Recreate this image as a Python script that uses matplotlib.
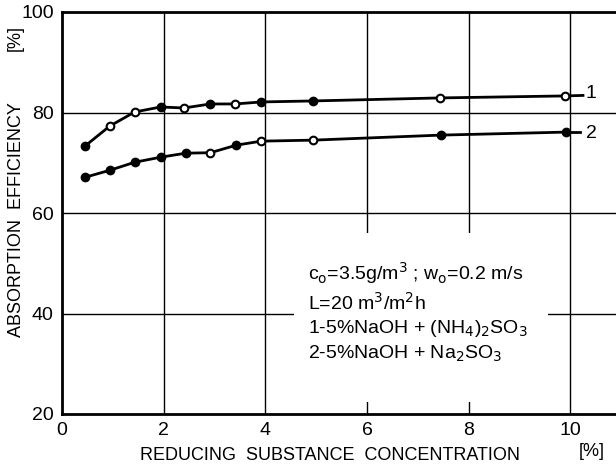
import matplotlib
matplotlib.use("Agg")
import matplotlib.pyplot as plt
from matplotlib.patches import Rectangle

# Data
x1 = [0.45, 0.94, 1.43, 1.94, 2.40, 2.92, 3.41, 3.92, 4.94, 7.43, 9.90]
y1 = [73.3, 77.3, 80.1, 81.1, 80.9, 81.7, 81.7, 82.1, 82.3, 82.9, 83.3]
open1 = [False, True, True, False, True, False, True, False, False, True, True]

x2 = [0.45, 0.94, 1.43, 1.94, 2.43, 2.92, 3.43, 3.92, 4.94, 7.45, 9.92]
y2 = [67.1, 68.5, 70.1, 71.1, 71.9, 72.0, 73.5, 74.3, 74.5, 75.5, 76.1]
open2 = [False, False, False, False, False, True, False, True, True, False, False]

xticks = [0, 2, 4, 6, 8, 10]
yticks = [20, 40, 60, 80, 100]

FONT = ['Liberation Sans Narrow', 'Liberation Sans', 'DejaVu Sans']
plt.rcParams['font.family'] = FONT

fig = plt.figure(figsize=(6.16, 4.71), dpi=100)
ax = fig.add_axes([62/616, 57/471, (616-62)/616, (414-12)/471])
ax.set_xlim(0.04, 10.9)
ax.set_ylim(20, 100)

for xv in [2, 4, 6, 8, 10]:
    ax.axvline(xv, color='black', lw=1.0, zorder=1)
for yv in [40, 60, 80]:
    ax.axhline(yv, color='black', lw=1.0, zorder=1)

# white panel behind the legend text (covers grid lines)
ax.add_patch(Rectangle((4.57, 22.4), 5.0, 33.6, facecolor='white',
                       edgecolor='none', zorder=2))

for xs, ys, opens in [(x1, y1, open1), (x2, y2, open2)]:
    ax.plot(xs, ys, color='black', lw=2.0, zorder=3)
    for xv, yv, o in zip(xs, ys, opens):
        ax.plot([xv], [yv], marker='o', ms=5.5, mec='black', mew=1.5,
                mfc='white' if o else 'black', zorder=4)

# end extensions and labels
ax.plot([x1[-1], 10.25], [y1[-1], y1[-1] + 0.1], color='black', lw=2.0, zorder=3)
ax.plot([x2[-1], 10.2], [y2[-1], y2[-1]], color='black', lw=2.0, zorder=3)
ax.text(10.3, y1[-1] + 0.4, '1', fontsize=14, va='center', ha='left')
ax.text(10.3, y2[-1] - 0.2, '2', fontsize=14, va='center', ha='left')

ax.set_xticks(xticks)
ax.set_yticks(yticks)
ax.tick_params(length=0, labelsize=14, pad=6)
for s in ['left', 'bottom', 'top']:
    ax.spines[s].set_linewidth(2.0)
ax.spines['right'].set_visible(False)

ax.text(0.444, 0.254,
        'c$_\\mathrm{o}$=3.5g/m$^3$ ; w$_\\mathrm{o}$=0.2 m/s\n'
        'L=20 m$^3$/m$^2$h\n'
        '1-5%NaOH + (NH$_4$)$_2$SO$_3$\n'
        '2-5%NaOH + Na$_2$SO$_3$',
        transform=ax.transAxes, fontsize=14, va='center', ha='left',
        linespacing=1.3, zorder=5)

fig.text(17/616, 1 - 220/471, 'ABSORPTION  EFFICIENCY', rotation=90,
         fontsize=13, ha='center', va='center')
fig.text(15/616, 1 - 38/471, '[%]', rotation=90, fontsize=13,
         ha='center', va='center')
fig.text(330/616, 1 - 455/471, 'REDUCING  SUBSTANCE  CONCENTRATION',
         fontsize=13, ha='center', va='center')
fig.text(592/616, 1 - 452/471, '[%]', fontsize=13, ha='center', va='center')

fig.savefig('out.png', dpi=100)
